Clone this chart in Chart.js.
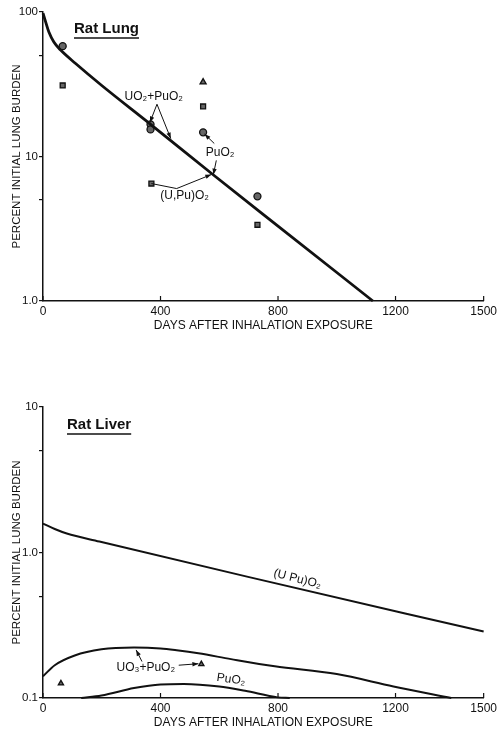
<!DOCTYPE html>
<html><head><meta charset="utf-8">
<script src="https://cdn.jsdelivr.net/npm/chart.js@4.4.1/dist/chart.umd.min.js"></script>
<style>
html,body{margin:0;padding:0;background:#fff;width:500px;height:736px;overflow:hidden;}
canvas{position:absolute;left:0;}
#c1{top:0;} #c2{top:365px;}
</style></head><body>
<canvas id="c1" width="500" height="345"></canvas>
<canvas id="c2" width="500" height="371"></canvas>
<script>
// ---- axis ticks ----
const xTicks = [0, 400, 800, 1200, 1500];
const lungYTicks = [1, 5, 10, 50, 100];
const lungYLabels = {1: '1.0', 10: '10', 100: '100'};
const liverYTicks = [0.1, 0.5, 1, 5, 10];
const liverYLabels = {0.1: '0.1', 1: '1.0', 10: '10'};

// ---- Rat Lung ----
const lungCurveDays = [0, 10, 20, 37, 60, 111, 200, 363, 575, 800, 1123];
const lungCurveVals = [98, 84, 72.7, 62, 54.5, 44, 31, 16.9, 7.6, 3.3, 1.0];
const lungPuO2Days = [67, 366, 366, 545, 730];
const lungPuO2Vals = [58, 16.7, 15.4, 14.7, 5.3];
const lungUPuO2Days = [67, 369, 545, 730];
const lungUPuO2Vals = [31, 6.5, 22.2, 3.37];
const lungUO2PuO2Days = [545];
const lungUO2PuO2Vals = [32.7];

// ---- Rat Liver ----
const liverUPuDays = [0, 40, 81, 192, 698, 1500];
const liverUPuVals = [1.58, 1.45, 1.35, 1.19, 0.68, 0.286];
const liverUO3Days = [0, 40, 108, 199, 310, 400, 455, 529, 640, 789, 1000, 1193, 1390];
const liverUO3Vals = [0.141, 0.168, 0.196, 0.216, 0.222, 0.219, 0.213, 0.203, 0.185, 0.165, 0.146, 0.12, 0.1];
const liverPuDays = [130, 199, 310, 400, 479, 600, 688, 799, 840];
const liverPuVals = [0.1, 0.104, 0.117, 0.124, 0.125, 0.12, 0.112, 0.101, 0.1];
const liverTriDays = [61, 539];
const liverTriVals = [0.126, 0.171];

const FONT = "'Liberation Sans', Arial, Helvetica, sans-serif";
const zip = (xs, ys) => xs.map((x, i) => ({x: x, y: ys[i]}));

function arrow(ctx, x1, y1, x2, y2, head) {
  ctx.beginPath(); ctx.moveTo(x1, y1); ctx.lineTo(x2, y2); ctx.stroke();
  if (head) {
    const a = Math.atan2(y2 - y1, x2 - x1), L = 6, W = 2.2;
    ctx.beginPath();
    ctx.moveTo(x2, y2);
    ctx.lineTo(x2 - L * Math.cos(a) + W * Math.sin(a), y2 - L * Math.sin(a) - W * Math.cos(a));
    ctx.lineTo(x2 - L * Math.cos(a) - W * Math.sin(a), y2 - L * Math.sin(a) + W * Math.cos(a));
    ctx.closePath(); ctx.fill();
  }
}

const annot = {
  id: 'annot',
  afterDraw(chart, args, opts) {
    const ctx = chart.ctx, xs = chart.scales.x, ys = chart.scales.y, ca = chart.chartArea;
    const P = (d, v) => [xs.getPixelForValue(d), ys.getPixelForValue(v)];
    ctx.save();
    ctx.fillStyle = '#111'; ctx.strokeStyle = '#111';
    // inner x tick marks
    ctx.lineWidth = 1.2;
    xTicks.forEach(t => {
      const x = xs.getPixelForValue(t);
      ctx.beginPath(); ctx.moveTo(x, ca.bottom); ctx.lineTo(x, ca.bottom - 5); ctx.stroke();
    });
    // title with underline
    ctx.font = 'bold 15px ' + FONT;
    ctx.textAlign = 'left'; ctx.textBaseline = 'alphabetic';
    const tx = ca.left + opts.title.dx, ty = ca.top + opts.title.dy;
    ctx.fillText(opts.title.text, tx, ty);
    const w = ctx.measureText(opts.title.text).width;
    ctx.lineWidth = 1.6;
    ctx.beginPath(); ctx.moveTo(tx, ty + 5); ctx.lineTo(tx + w, ty + 5); ctx.stroke();
    // labels
    ctx.font = '12px ' + FONT;
    ctx.textAlign = 'center'; ctx.textBaseline = 'middle';
    (opts.texts || []).forEach(t => {
      const [x, y] = P(t.d, t.v);
      ctx.save(); ctx.translate(x, y); ctx.rotate((t.rot || 0) * Math.PI / 180);
      ctx.fillText(t.text, 0, 0); ctx.restore();
    });
    ctx.lineWidth = 1;
    (opts.arrows || []).forEach(a => {
      const pts = a.pts.map(p => P(p[0], p[1]));
      for (let i = 0; i < pts.length - 1; i++) {
        arrow(ctx, pts[i][0], pts[i][1], pts[i + 1][0], pts[i + 1][1], a.head && i === pts.length - 2);
      }
    });
    ctx.restore();
  }
};

function makeScales(yMin, yMax, yTicks, yLabels, xHeight, xTitlePad) {
  return {
    x: {
      type: 'linear', min: 0, max: 1500,
      afterBuildTicks: s => { s.ticks = xTicks.map(v => ({value: v})); },
      afterFit: s => { s.height = xHeight; },
      grid: {display: false, drawTicks: false, tickLength: 0},
      border: {display: true, color: '#111', width: 1.5},
      ticks: {color: '#111', font: {family: FONT, size: 12}, padding: 3, maxRotation: 0, autoSkip: false,
        callback: v => String(v)},
      title: {display: true, text: 'DAYS AFTER INHALATION EXPOSURE', color: '#111',
        font: {family: FONT, size: 12}, padding: {top: 0, bottom: xTitlePad}}
    },
    y: {
      type: 'logarithmic', min: yMin, max: yMax,
      afterBuildTicks: s => { s.ticks = yTicks.map(v => ({value: v})); },
      afterFit: s => { s.width = 43; },
      grid: {display: true, drawOnChartArea: false, drawTicks: true, tickLength: 4, color: '#111', lineWidth: 1.2},
      border: {display: true, color: '#111', width: 1.5},
      ticks: {color: '#111', font: {family: FONT, size: 11.5}, padding: 1, autoSkip: false,
        callback: v => (yLabels[v] !== undefined ? yLabels[v] : '')},
      title: {display: true, text: 'PERCENT INITIAL LUNG BURDEN', color: '#111',
        font: {family: FONT, size: 11.5}, padding: {top: 10, bottom: 0}}
    }
  };
}

const pointDs = (data, style, r) => ({
  data: data, showLine: false, pointStyle: style, pointRadius: r || 3.5,
  backgroundColor: '#666', borderColor: '#111', borderWidth: 1.3, clip: false
});
const lineDs = (data, w) => ({
  data: data, showLine: true, pointRadius: 0, borderColor: '#111', borderWidth: w,
  cubicInterpolationMode: 'monotone', fill: false, clip: false
});

Chart.defaults.font.family = FONT;

new Chart(document.getElementById('c1'), {
  type: 'scatter',
  data: {datasets: [
    lineDs(zip(lungCurveDays, lungCurveVals), 2.8),
    pointDs(zip(lungPuO2Days, lungPuO2Vals), 'circle'),
    pointDs(zip(lungUPuO2Days, lungUPuO2Vals), 'rect'),
    pointDs(zip(lungUO2PuO2Days, lungUO2PuO2Vals), 'triangle')
  ]},
  options: {
    responsive: false, animation: false, devicePixelRatio: 1,
    layout: {padding: {left: 0, right: 12, top: 12, bottom: 0}},
    plugins: {legend: {display: false}, tooltip: {enabled: false},
      annot: {
        title: {text: 'Rat Lung', dx: 31, dy: 21},
        texts: [
          {text: 'UO₂+PuO₂', d: 377, v: 26.1},
          {text: 'PuO₂', d: 603, v: 10.65},
          {text: '(U,Pu)O₂', d: 482, v: 5.37}
        ],
        arrows: [
          {pts: [[388, 23], [364, 17.2]], head: true},
          {pts: [[388, 23], [435, 13.3]], head: true},
          {pts: [[583, 12.3], [550, 14.3]], head: true},
          {pts: [[590, 9.4], [580, 7.5]], head: true},
          {pts: [[369, 6.5], [455, 6.0], [573, 7.5]], head: true}
        ]
      }
    },
    scales: makeScales(1, 100, lungYTicks, lungYLabels, 44, 12)
  },
  plugins: [annot]
});

new Chart(document.getElementById('c2'), {
  type: 'scatter',
  data: {datasets: [
    lineDs(zip(liverUPuDays, liverUPuVals), 2),
    lineDs(zip(liverUO3Days, liverUO3Vals), 2),
    lineDs(zip(liverPuDays, liverPuVals), 2),
    pointDs(zip(liverTriDays, liverTriVals), 'triangle', 3)
  ]},
  options: {
    responsive: false, animation: false, devicePixelRatio: 1,
    layout: {padding: {left: 0, right: 14, top: 42, bottom: 0}},
    plugins: {legend: {display: false}, tooltip: {enabled: false},
      annot: {
        title: {text: 'Rat Liver', dx: 24, dy: 22},
        texts: [
          {text: '(U Pu)O₂', d: 866, v: 0.657, rot: 14},
          {text: 'UO₃+PuO₂', d: 350, v: 0.162},
          {text: 'PuO₂', d: 640, v: 0.134, rot: 8}
        ],
        arrows: [
          {pts: [[337, 0.178], [317, 0.214]], head: true},
          {pts: [[462, 0.168], [529, 0.172]], head: true}
        ]
      }
    },
    scales: makeScales(0.1, 10, liverYTicks, liverYLabels, 38, 6)
  },
  plugins: [annot]
});
</script>
</body></html>
